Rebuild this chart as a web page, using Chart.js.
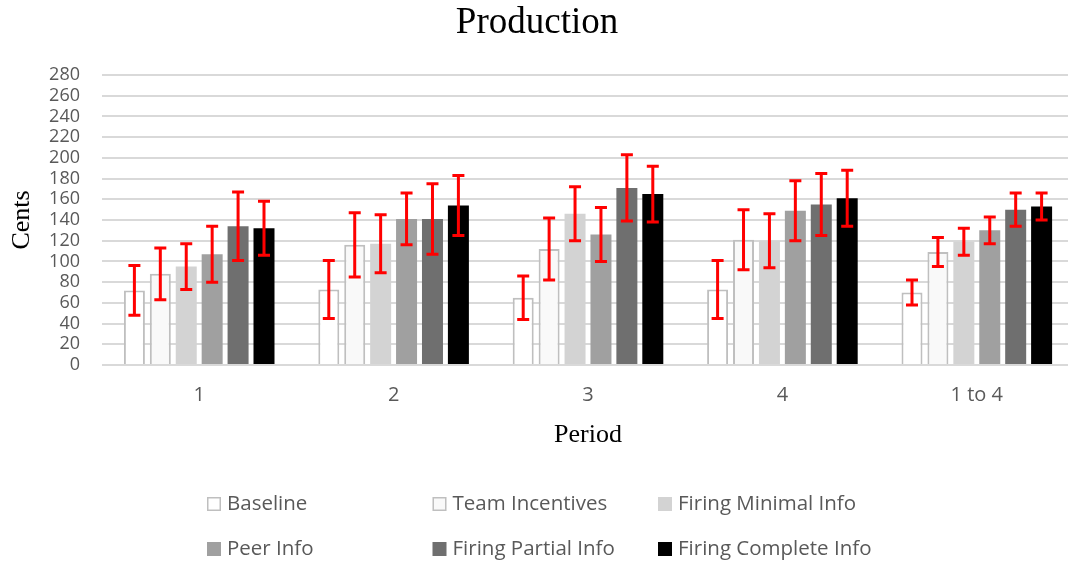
<!DOCTYPE html>
<html>
<head>
<meta charset="utf-8">
<script src="https://cdn.jsdelivr.net/npm/chart.js@4.4.1/dist/chart.umd.min.js"></script>
<style>
  html, body { margin: 0; padding: 0; background: #fff; overflow: hidden; }
  #wrap { width: 1074px; height: 564px; position: relative; }
</style>
</head>
<body>
<div id="wrap"><canvas id="prodChart"></canvas></div>
<script>
// categories (periods)
const periods = ["1", "2", "3", "4", "1 to 4"];

// treatment names
const treatments = ["Baseline", "Team Incentives", "Firing Minimal Info", "Peer Info", "Firing Partial Info", "Firing Complete Info"];

// mean production per treatment, one value per period
const baseline        = [72, 73, 65, 73, 70];
const teamIncentives  = [88, 116, 112, 121, 109];
const firingMinimal   = [95, 117, 146, 120, 119];
const peerInfo        = [107, 141, 126, 149, 130];
const firingPartial   = [134, 141, 171, 155, 150];
const firingComplete  = [132, 154, 165, 161, 153];

// error bar half-widths (+/-)
const baselineErr       = [24, 28, 21, 28, 12];
const teamIncentivesErr = [25, 31, 30, 29, 14];
const firingMinimalErr  = [22, 28, 26, 26, 13];
const peerInfoErr       = [27, 25, 26, 29, 13];
const firingPartialErr  = [33, 34, 32, 30, 16];
const firingCompleteErr = [26, 29, 27, 27, 13];

const seriesValues = [baseline, teamIncentives, firingMinimal, peerInfo, firingPartial, firingComplete];
const seriesErrors = [baselineErr, teamIncentivesErr, firingMinimalErr, peerInfoErr, firingPartialErr, firingCompleteErr];

const fills   = ["#ffffff", "#f9f9f9", "#d3d3d3", "#a0a0a0", "#6f6f6f", "#000000"];
const borders = ["#bfbfbf", "#bfbfbf", "#d3d3d3", "#a0a0a0", "#6f6f6f", "#000000"];
const borderWidths = [2, 2, 0, 0, 0, 0];

const textGray = "#595959";

// draws the red error bars on top of each bar
const errorBars = {
    id: "errorBars",
    afterDatasetsDraw(chart) {
        const ctx = chart.ctx;
        const y = chart.scales.y;
        ctx.save();
        ctx.strokeStyle = "#ff0000";
        ctx.lineWidth = 3;
        chart.data.datasets.forEach((ds, di) => {
            const meta = chart.getDatasetMeta(di);
            meta.data.forEach((bar, i) => {
                const v = ds.data[i];
                const e = ds.errors[i];
                const top = y.getPixelForValue(v + e);
                const bot = y.getPixelForValue(v - e);
                const cap = 6;
                ctx.beginPath();
                ctx.moveTo(bar.x, top);
                ctx.lineTo(bar.x, bot);
                ctx.moveTo(bar.x - cap, top);
                ctx.lineTo(bar.x + cap, top);
                ctx.moveTo(bar.x - cap, bot);
                ctx.lineTo(bar.x + cap, bot);
                ctx.stroke();
            });
        });
        ctx.restore();
    }
};

// legend in a 3 column grid below the axis
const gridLegend = {
    id: "gridLegend",
    afterDraw(chart) {
        const ctx = chart.ctx;
        const colW = 225.5;
        const startX = chart.width / 2 - 330;
        const rowsY = [chart.height - 60, chart.height - 15];
        ctx.save();
        ctx.font = "20.5px 'Open Sans'";
        ctx.textBaseline = "middle";
        chart.data.datasets.forEach((ds, i) => {
            const x = startX + (i % 3) * colW;
            const yy = rowsY[Math.floor(i / 3)];
            const box = 14;
            ctx.fillStyle = ds.backgroundColor;
            ctx.fillRect(x, yy - box / 2, box, box);
            if (ds.borderWidth > 0) {
                ctx.strokeStyle = ds.borderColor;
                ctx.lineWidth = 1.5;
                ctx.strokeRect(x + 0.75, yy - box / 2 + 0.75, box - 1.5, box - 1.5);
            }
            ctx.fillStyle = textGray;
            ctx.fillText(ds.label, x + box + 6, yy);
        });
        ctx.restore();
    }
};

const ctx = document.getElementById("prodChart").getContext("2d");

new Chart(ctx, {
    type: "bar",
    data: {
        labels: periods,
        datasets: treatments.map((name, i) => ({
            label: name,
            data: seriesValues[i],
            errors: seriesErrors[i],
            backgroundColor: fills[i],
            borderColor: borders[i],
            borderWidth: borderWidths[i],
            borderSkipped: "bottom",
            categoryPercentage: 0.8,
            barPercentage: 0.81
        }))
    },
    options: {
        responsive: true,
        maintainAspectRatio: false,
        animation: false,
        layout: { padding: { left: 0, right: 0, top: 0, bottom: 113.4 } },
        plugins: {
            legend: { display: false },
            tooltip: { enabled: false },
            title: {
                display: true,
                text: "Production",
                color: "#000",
                font: { family: "'Liberation Serif', 'Times New Roman', serif", size: 37, weight: "normal" },
                padding: { top: 1, bottom: 29.6 }
            }
        },
        scales: {
            x: {
                grid: { display: false, drawTicks: false },
                border: { display: false },
                ticks: {
                    color: textGray,
                    padding: 18,
                    font: { family: "'Open Sans'", size: 20 }
                },
                title: {
                    display: true,
                    text: "Period",
                    color: "#000",
                    font: { family: "'Liberation Serif', serif", size: 26 },
                    padding: { top: -5.6, bottom: 0 }
                }
            },
            y: {
                min: 0,
                max: 280,
                afterFit(scale) { scale.width = 102; },
                grid: { color: "#d9d9d9", lineWidth: 2, drawTicks: false },
                border: { display: false },
                ticks: {
                    stepSize: 20,
                    autoSkip: false,
                    color: textGray,
                    padding: 22,
                    font: { family: "'Open Sans'", size: 18 }
                },
                title: {
                    display: true,
                    text: "Cents",
                    color: "#000",
                    font: { family: "'Liberation Serif', serif", size: 26 },
                    padding: { top: 6.4, bottom: 0 }
                }
            }
        }
    },
    plugins: [errorBars, gridLegend]
});
</script>
</body>
</html>
